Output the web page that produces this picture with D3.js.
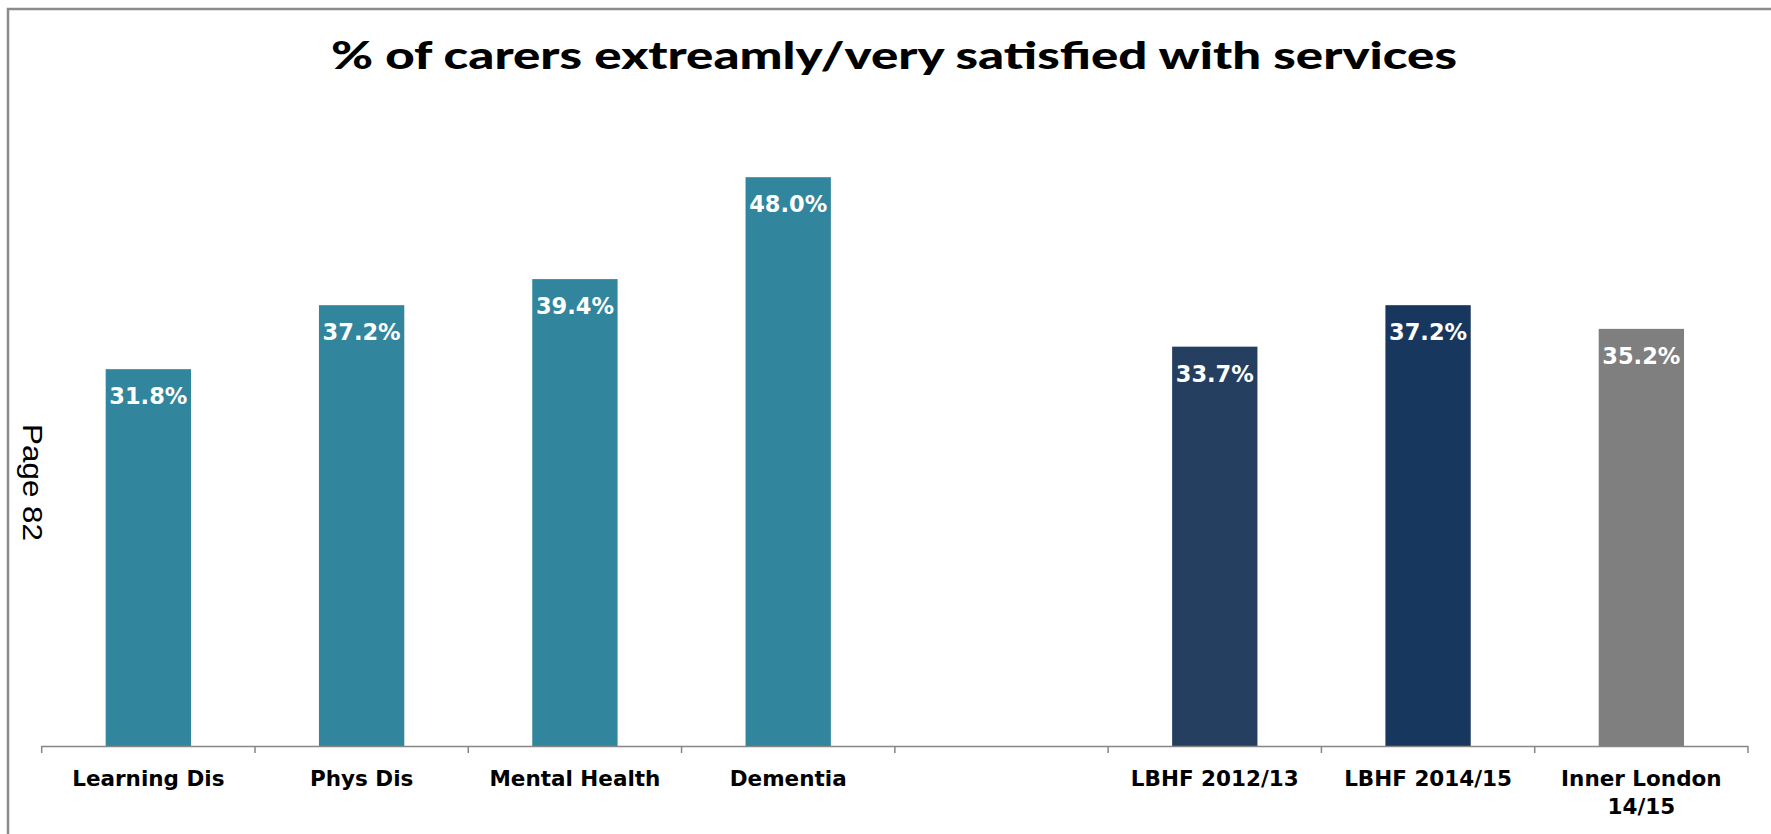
<!DOCTYPE html>
<html>
<head>
<meta charset="utf-8">
<script src="https://cdn.jsdelivr.net/npm/d3@7/dist/d3.min.js"></script>
<style>
  html, body { margin: 0; padding: 0; background: #ffffff; }
  svg { display: block; }
</style>
</head>
<body>
<svg id="chart" width="1771" height="834"></svg>
<script>
// Categories along the x axis (the empty slot separates the two groups)
const categories = ["Learning Dis", "Phys Dis", "Mental Health", "Dementia", "", "LBHF 2012/13", "LBHF 2014/15", "Inner London\n14/15"];
// Percentage of carers extremely/very satisfied, per category
const values = [31.8, 37.2, 39.4, 48.0, null, 33.7, 37.2, 35.2];
// Fill per bar
const barColors = ["#31859c", "#31859c", "#31859c", "#31859c", null, "#243f60", "#17375e", "#7f7f7f"];
const titleText = "% of carers extreamly/very satisfied with services";
const pageLabel = "Page 82";

const svg = d3.select("#chart");
const W = 1771, H = 834;

// frame: left and top edges of the chart box
svg.append("path")
  .attr("d", `M8,${H} V9 H${W}`)
  .attr("fill", "none")
  .attr("stroke", "#8c8c8c")
  .attr("stroke-width", 2.5);

const plot = { left: 41.7, right: 1748, top: 153.5, bottom: 746 };

const x = d3.scaleBand()
  .domain(d3.range(categories.length))
  .range([plot.left, plot.right])
  .paddingInner(0.6)
  .paddingOuter(0.3);

const y = d3.scaleLinear()
  .domain([0, 50])
  .range([plot.bottom, plot.top]);

const data = categories.map((c, i) => ({ i, c, v: values[i], color: barColors[i] }))
  .filter(d => d.v != null);

// bars
svg.append("g").selectAll("rect")
  .data(data)
  .join("rect")
  .attr("x", d => x(d.i))
  .attr("width", x.bandwidth())
  .attr("y", d => y(d.v))
  .attr("height", d => y(0) - y(d.v))
  .attr("fill", d => d.color);

// value labels inside the top of each bar
svg.append("g").selectAll("text")
  .data(data)
  .join("text")
  .attr("x", d => x(d.i) + x.bandwidth() / 2)
  .attr("y", d => y(d.v) + 35)
  .attr("text-anchor", "middle")
  .attr("font-family", "DejaVu Sans")
  .attr("font-weight", "bold")
  .attr("font-size", 22.5)
  .attr("fill", "#ffffff")
  .text(d => d.v.toFixed(1) + "%");

// category axis: baseline plus tick marks between categories
const step = x.step();
const axisG = svg.append("g");
axisG.append("line")
  .attr("x1", plot.left).attr("x2", plot.right)
  .attr("y1", plot.bottom + 0.5).attr("y2", plot.bottom + 0.5)
  .attr("stroke", "#868686").attr("stroke-width", 1.5);
axisG.selectAll("line.tick")
  .data(d3.range(categories.length + 1))
  .join("line")
  .attr("class", "tick")
  .attr("x1", i => plot.left + i * step).attr("x2", i => plot.left + i * step)
  .attr("y1", plot.bottom).attr("y2", plot.bottom + 7)
  .attr("stroke", "#868686").attr("stroke-width", 1.5);

// category labels
const labels = axisG.selectAll("text.cat")
  .data(categories.map((c, i) => ({ c, i })))
  .join("text")
  .attr("class", "cat")
  .attr("text-anchor", "middle")
  .attr("font-family", "DejaVu Sans")
  .attr("font-weight", "bold")
  .attr("font-size", 21.5)
  .attr("fill", "#000000");
labels.each(function (d) {
  const cx = x(d.i) + x.bandwidth() / 2;
  d3.select(this).selectAll("tspan")
    .data(d.c.split("\n"))
    .join("tspan")
    .attr("x", cx)
    .attr("y", (s, k) => 786 + k * 28)
    .text(s => s);
});

// title
svg.append("text")
  .attr("x", 894)
  .attr("y", 69)
  .attr("text-anchor", "middle")
  .attr("font-family", "Lato")
  .attr("font-weight", 900)
  .attr("font-size", 38)
  .attr("textLength", 1126)
  .attr("lengthAdjust", "spacingAndGlyphs")
  .attr("fill", "#000000")
  .text(titleText);

// page number running down the left margin
svg.append("text")
  .attr("transform", "translate(22.5,424) rotate(90)")
  .attr("font-family", "Liberation Sans")
  .attr("font-size", 27)
  .attr("textLength", 117)
  .attr("lengthAdjust", "spacingAndGlyphs")
  .attr("fill", "#000000")
  .text(pageLabel);
</script>
</body>
</html>
